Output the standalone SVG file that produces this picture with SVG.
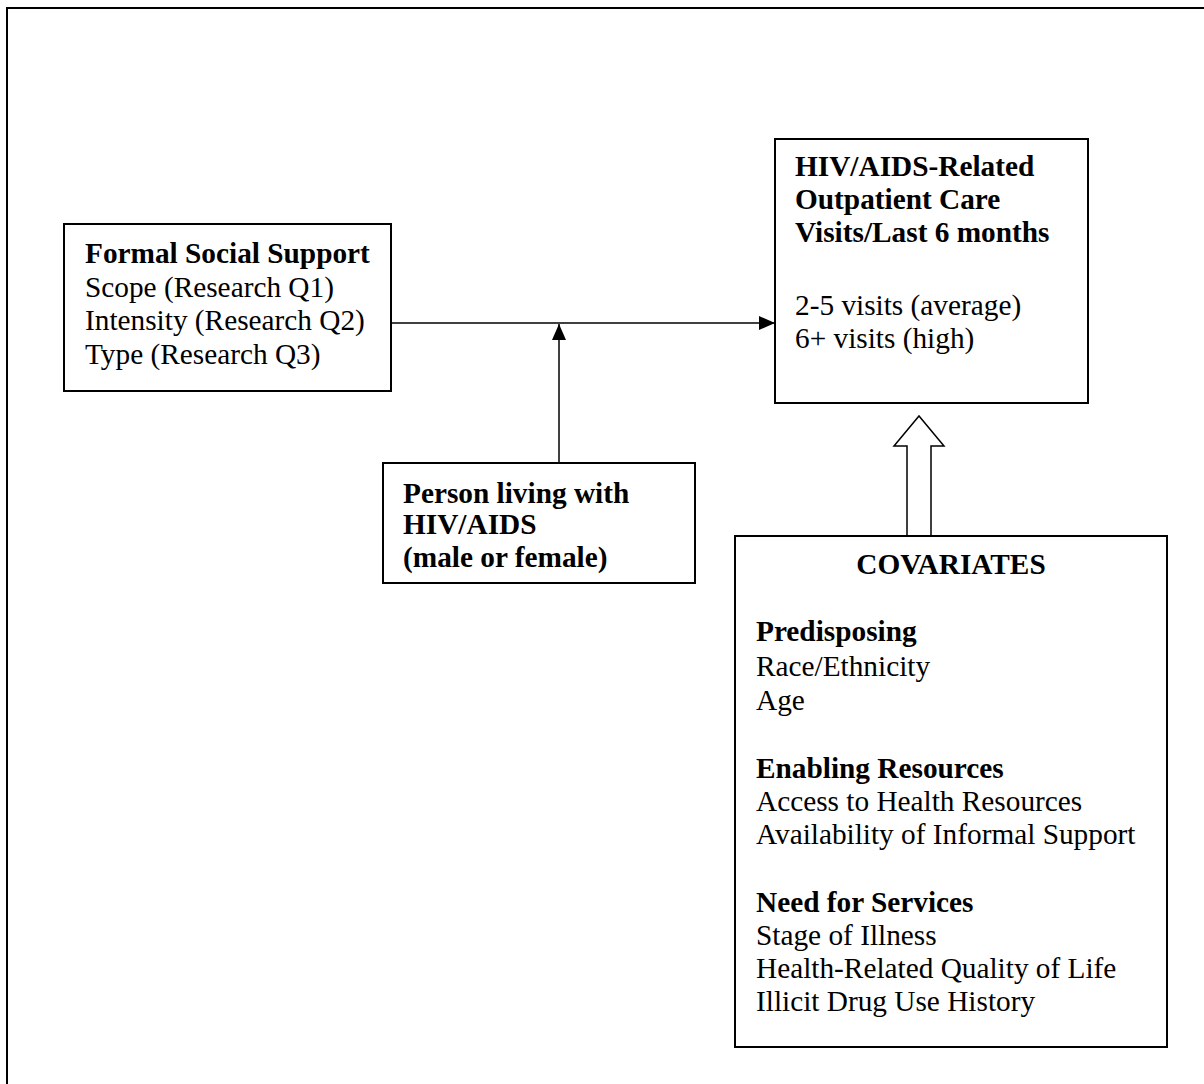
<svg xmlns="http://www.w3.org/2000/svg" width="1204" height="1084" viewBox="0 0 1204 1084">
<style>
.box{fill:#fff;stroke:#000;stroke-width:2}
.t{font-family:"Liberation Serif","Times New Roman",serif;font-size:29.3px;fill:#000}
.b{font-weight:bold}
.ln{stroke:#000;stroke-width:1.5;fill:none}
</style>
<defs>
<marker id="ah" viewBox="0 0 16 14" refX="16" refY="7" markerWidth="16" markerHeight="14" markerUnits="userSpaceOnUse" orient="auto">
<path d="M0,0 L16,7 L0,14 Z" fill="#000"/>
</marker>
</defs>
<rect width="1204" height="1084" fill="#fff"/>
<path d="M7,1090 V8 H1210" fill="none" stroke="#000" stroke-width="2"/>
<g id="connectors">
<line class="ln" x1="391" y1="323" x2="775" y2="323" marker-end="url(#ah)"/>
<line class="ln" x1="559" y1="463" x2="559" y2="324" marker-end="url(#ah)"/>
<path d="M907,536 V446 H894 L919,416 L944,446 H931 V536" fill="#fff" stroke="#000" stroke-width="1.5"/>
</g>
<g id="formal-support">
<rect class="box" x="64" y="224" width="327" height="167"/>
<text class="t b" x="85" y="263">Formal Social Support</text>
<text class="t" x="85" y="297">Scope (Research Q1)</text>
<text class="t" x="85" y="330">Intensity (Research Q2)</text>
<text class="t" x="85" y="364">Type (Research Q3)</text>
</g>
<g id="outcome">
<rect class="box" x="775" y="139" width="313" height="264"/>
<text class="t b" x="795" y="176">HIV/AIDS-Related</text>
<text class="t b" x="795" y="209">Outpatient Care</text>
<text class="t b" x="795" y="242">Visits/Last 6 months</text>
<text class="t" x="795" y="315">2-5 visits (average)</text>
<text class="t" x="795" y="348">6+ visits (high)</text>
</g>
<g id="person">
<rect class="box" x="383" y="463" width="312" height="120"/>
<text class="t b" x="403" y="503">Person living with</text>
<text class="t b" x="403" y="534">HIV/AIDS</text>
<text class="t b" x="403" y="567">(male or female)</text>
</g>
<g id="covariates">
<rect class="box" x="735" y="536" width="432" height="511"/>
<text class="t b" x="951" y="574" text-anchor="middle">COVARIATES</text>
<text class="t b" x="756" y="641">Predisposing</text>
<text class="t" x="756" y="676">Race/Ethnicity</text>
<text class="t" x="756" y="710">Age</text>
<text class="t b" x="756" y="778">Enabling Resources</text>
<text class="t" x="756" y="811">Access to Health Resources</text>
<text class="t" x="756" y="844">Availability of Informal Support</text>
<text class="t b" x="756" y="912">Need for Services</text>
<text class="t" x="756" y="945">Stage of Illness</text>
<text class="t" x="756" y="978">Health-Related Quality of Life</text>
<text class="t" x="756" y="1011">Illicit Drug Use History</text>
</g>
</svg>
